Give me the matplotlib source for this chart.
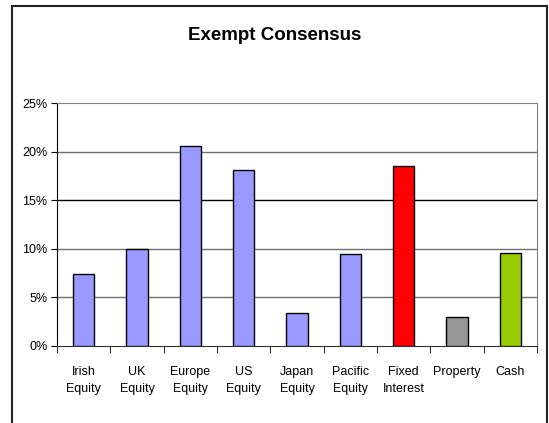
import numpy as np
import matplotlib
matplotlib.use("Agg")
import matplotlib.pyplot as plt
from matplotlib import font_manager
from matplotlib.patches import Rectangle

categories = ["Irish\nEquity", "UK\nEquity", "Europe\nEquity", "US\nEquity", "Japan\nEquity",
              "Pacific\nEquity", "Fixed\nInterest", "Property", "Cash"]
values = [7.4, 10.0, 20.6, 18.1, 3.4, 9.5, 18.5, 3.0, 9.6]
colors = ["#9999FF"] * 6 + ["#FF0000", "#969696", "#99CC00"]
yticks = [0, 5, 10, 15, 20, 25]

names = {f.name for f in font_manager.fontManager.ttflist}
fam = "Liberation Sans Narrow" if "Liberation Sans Narrow" in names else "Liberation Sans"
narrow = fam.endswith("Narrow")
plt.rcParams["font.family"] = [fam, "DejaVu Sans"]
fs = 10 if narrow else 9
tfs = 15 if narrow else 13.5

fig = plt.figure(figsize=(5.49, 4.23), dpi=100)
# outer chart border (bottom edge cut off like the reference)
fig.patches.append(Rectangle((12 / 549, -0.05), (547 - 12) / 549, 1.05 - 6 / 423,
                             transform=fig.transFigure, fill=False, edgecolor="#222222",
                             linewidth=1.5))

ax = fig.add_axes([57 / 549, 1 - 346 / 423, 480 / 549, 243 / 423])
x = np.arange(len(categories))
ax.bar(x, values, width=0.4, color=colors, edgecolor="black", linewidth=1.0, zorder=3)

ax.set_xlim(-0.5, len(categories) - 0.5)
ax.set_ylim(0, 25)
ax.set_yticks(yticks)
ax.set_yticklabels([f"{v}%" for v in yticks], fontsize=fs)
for v in yticks[1:-1]:
    ax.axhline(v, color="black" if v == 15 else "#707070", linewidth=1.0, zorder=1)

ax.set_xticks(np.arange(-0.5, len(categories), 1.0))
ax.set_xticklabels([])
ax.tick_params(axis="x", length=5, direction="out", color="#333333")
ax.tick_params(axis="y", length=4, direction="out", pad=3)
for i, c in enumerate(categories):
    ax.text(i, -2.1, c, ha="center", va="top", fontsize=fs, linespacing=1.55)

ax.spines["top"].set_color("#808080")
ax.spines["right"].set_color("#808080")
ax.spines["left"].set_color("black")
ax.spines["bottom"].set_color("#333333")

fig.text(0.5, 1 - 36 / 423, "Exempt Consensus", ha="center", va="center",
         fontsize=tfs, fontweight="bold")

fig.savefig("out.png", dpi=100)
